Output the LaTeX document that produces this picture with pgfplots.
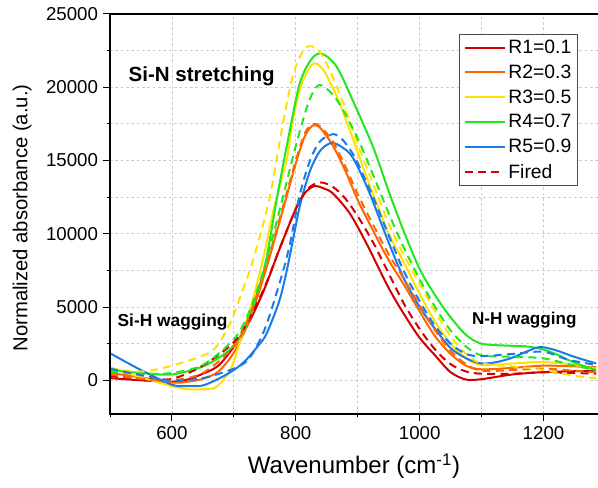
\documentclass[border=0pt]{standalone}
\usepackage{fontspec}
\setmainfont{Liberation Sans}
\usepackage{pgfplots}
\pgfplotsset{compat=1.18}
\definecolor{cred}{HTML}{D20000}
\definecolor{corange}{HTML}{FF6600}
\definecolor{cyellow}{HTML}{FFE100}
\definecolor{cgreen}{HTML}{22E61E}
\definecolor{cblue}{HTML}{1A7AE8}

\begin{document}
\begin{tikzpicture}
\useasboundingbox (-82.5pt,-54.75pt) rectangle (366pt,310.5pt);
\begin{axis}[
  at={(0,0)}, anchor=south west,
  scale only axis, width=366pt, height=300pt,
  xmin=500, xmax=1288, ymin=-2300, ymax=25000,
  xtick={600,800,1000,1200}, minor xtick={500,700,900,1100},
  ytick={0,5000,...,25000}, minor ytick={2500,7500,12500,17500,22500},
  grid=both,
  major grid style={gray!40, dash pattern=on 2pt off 2pt, line width=0.6pt},
  minor grid style={gray!40, dash pattern=on 2pt off 2pt, line width=0.6pt},
  axis line style={draw=none},
  tick align=outside, xtick pos=left, ytick pos=left,
  major tick length=5.5pt, minor tick length=2.5pt,
  every tick/.style={black, line width=0.75pt},
  clip=false,
  scaled y ticks=false,
  tick label style={font=\fontsize{14}{16}\selectfont},
  y tick label style={/pgf/number format/.cd, fixed, 1000 sep={}, assume math mode=true},
  x tick label style={/pgf/number format/.cd, 1000 sep={}, assume math mode=true},
  xlabel={Wavenumber (cm\textsuperscript{-1})},
  ylabel={Normalized absorbance (a.u.)},
  xlabel style={at={(axis description cs:0.5,-0.13)}, anchor=center, font=\fontsize{18}{21}\selectfont},
  ylabel style={at={(axis description cs:-0.18,0.49)}, anchor=center, font=\fontsize{15.2}{18}\selectfont},
  legend style={at={(0.96,0.95)}, anchor=north east, draw=gray!60!black, line width=0.8pt,
    font=\fontsize{14.5}{17}\selectfont, fill=white, row sep=3pt, cells={anchor=west}},
  legend image code/.code={\draw[#1, line width=1.5pt] (0pt,0pt) -- (30pt,0pt);},
  every axis plot/.append style={line width=1.5pt, smooth},
]
% solid: as deposited
\addplot[cred] table {
500 150
550 0
600 -100
625 50
650 450
675 1000
700 2300
725 4000
750 6300
775 9100
800 11700
815 12800
830 13250
845 13100
860 12750
887 11400
914 9350
950 6300
975 4500
1000 2900
1025 1700
1050 550
1075 50
1100 80
1150 400
1200 560
1250 620
1285 650
};
\addlegendentry{R1=0.1}
\addplot[corange] table {
500 500
550 200
600 -150
625 -100
650 100
675 600
700 1900
725 4100
750 7300
775 11000
800 14800
815 16700
828 17400
840 17200
860 16000
880 14300
900 12300
925 10200
950 8200
975 6500
1000 4700
1025 3000
1050 1800
1075 1000
1100 750
1150 850
1200 1000
1250 950
1285 900
};
\addlegendentry{R2=0.3}
\addplot[cyellow] table {
500 900
550 200
600 -400
625 -600
650 -600
670 -500
690 400
700 1300
710 2700
730 5400
750 8800
765 11800
785 15000
796 17900
810 20300
828 21600
844 21200
866 19400
887 17100
914 13900
936 11500
950 10000
975 8000
1000 5900
1025 4000
1050 2500
1075 1500
1100 1050
1150 1150
1200 1250
1250 1050
1285 800
};
\addlegendentry{R3=0.5}
\addplot[cgreen] table {
500 700
550 500
600 400
650 950
688 1900
710 2950
725 4300
750 7800
769 12300
785 15900
806 20200
825 21900
842 22300
866 21400
892 19100
925 15900
950 12900
975 10100
1000 7600
1025 5800
1050 4300
1075 3100
1100 2500
1150 2350
1175 2300
1200 2100
1225 1700
1250 1200
1285 700
};
\addlegendentry{R4=0.7}
\addplot[cblue] table {
500 1850
550 700
600 -300
625 -400
650 -350
675 100
700 700
720 1400
740 2400
753 3200
774 5500
788 8000
806 11800
823 14300
840 15700
858 16200
875 15900
892 15200
917 13000
950 9400
975 6900
1000 5000
1025 3500
1050 2200
1075 1500
1100 1150
1125 1250
1150 1550
1175 2000
1195 2270
1220 2050
1250 1600
1285 1150
};
\addlegendentry{R5=0.9}
% dashed: fired
\addplot[cred, dash pattern=on 6pt off 4pt] table {
500 300
550 100
600 100
650 1000
700 2600
725 4200
750 6400
775 9100
800 11700
820 13100
840 13500
860 13200
880 12400
900 11200
925 9400
950 7300
975 5200
1000 3500
1025 2100
1050 1100
1075 600
1100 450
1150 450
1200 550
1250 500
1285 450
};
\addlegendentry{Fired}
\addplot[corange, dash pattern=on 6pt off 4pt, forget plot] table {
500 400
550 100
600 0
650 500
700 2300
725 4400
750 7500
775 11200
800 15000
815 16900
828 17500
840 17300
860 16300
880 14600
900 12700
925 10600
950 8600
975 6900
1000 5100
1025 3400
1050 2000
1075 1100
1100 650
1150 700
1200 800
1250 650
1285 550
};
\addplot[cyellow, dash pattern=on 6pt off 4pt, forget plot] table {
500 800
550 600
591 900
645 1600
670 2200
694 3900
712 5900
731 8200
758 12500
780 17700
796 20900
812 22500
822 22800
835 22600
850 21600
875 19100
900 16100
925 13400
950 10700
975 8500
1000 6600
1025 4700
1050 3000
1075 1800
1100 1150
1150 950
1200 700
1250 300
1285 150
};
\addplot[cgreen, dash pattern=on 6pt off 4pt, forget plot] table {
500 600
550 450
600 500
650 1050
700 2800
725 4700
750 7800
775 11800
800 16000
820 18900
835 20100
850 19900
870 18900
900 16500
925 14000
950 11400
975 9000
1000 6900
1025 5000
1050 3400
1075 2300
1100 1700
1150 1600
1200 1500
1250 1000
1285 700
};
\addplot[cblue, dash pattern=on 6pt off 4pt, forget plot] table {
500 800
550 350
600 0
650 150
700 800
725 1500
750 3500
775 6800
790 9200
806 12600
823 15000
839 16300
860 16800
876 16400
895 15250
910 13900
925 12500
950 9900
975 7400
1000 5400
1025 3700
1050 2500
1075 1800
1100 1650
1150 1800
1200 1950
1240 1400
1285 1050
};
\draw[line width=1.2pt] (rel axis cs:0,1) -- (rel axis cs:0,0) -- (rel axis cs:1,0);
\draw[line width=1.2pt] (rel axis cs:0,1) -- (rel axis cs:1,1);
\node[font=\bfseries\fontsize{15.4}{18}\selectfont] at (axis cs:648,20760) {Si-N stretching};
\node[font=\bfseries\fontsize{13}{16}\selectfont] at (axis cs:601,3960) {Si-H wagging};
\node[font=\bfseries\fontsize{12.8}{16}\selectfont] at (axis cs:1169,4100) {N-H wagging};
\end{axis}
\end{tikzpicture}
\end{document}
